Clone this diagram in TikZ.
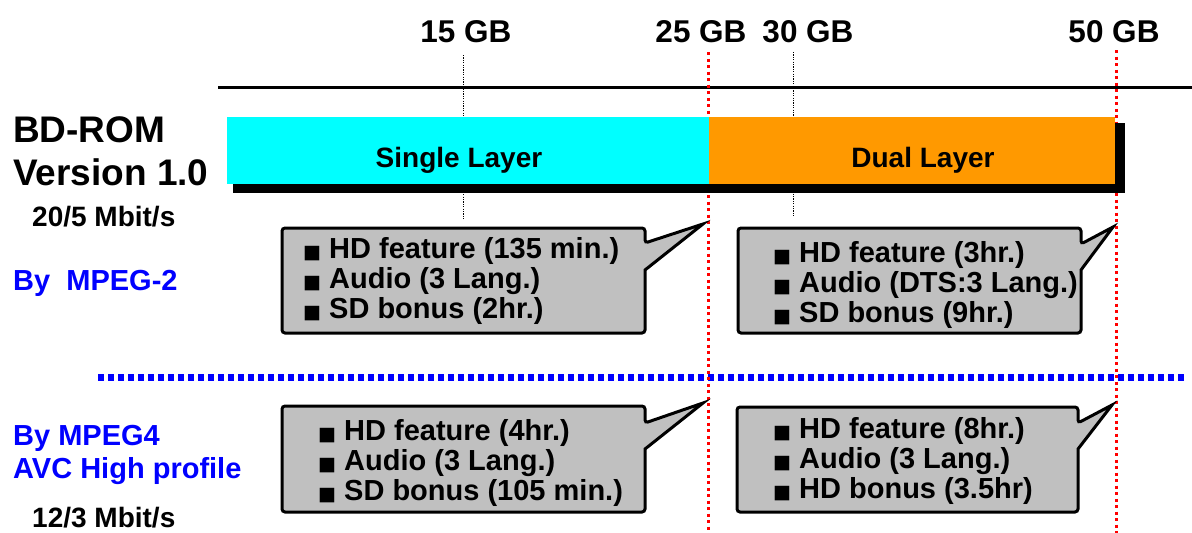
\documentclass[tikz,border=0pt]{standalone}
\usepackage{fontspec}
\setmainfont{Liberation Sans}
\newfontfamily\symfont{DejaVu Sans}
\definecolor{layerA}{RGB}{0,255,255}
\definecolor{layerB}{RGB}{255,153,0}
\definecolor{boxgray}{RGB}{192,192,192}
\newcommand\sqb{\makebox[26pt][l]{\symfont\fontsize{19}{19}\selectfont\char"25A0}}
\begin{document}
\begin{tikzpicture}[x=1pt,y=-1pt,
  lbl/.style={inner sep=0pt,font=\fontsize{31.5}{31.5}\selectfont\bfseries},
  title/.style={inner sep=0pt,font=\fontsize{37}{37}\selectfont\bfseries},
  rate/.style={inner sep=0pt,font=\fontsize{28}{28}\selectfont\bfseries},
  codec/.style={inner sep=0pt,text=blue,font=\fontsize{29}{29}\selectfont\bfseries},
  item/.style={inner sep=0pt,anchor=base west,font=\fontsize{29}{29}\selectfont\bfseries},
  callout/.style={fill=boxgray,draw=black,line width=3pt,line join=miter,rounded corners=3pt},
  guide/.style={draw=black,line width=1pt,dash pattern=on 1.2pt off 1.2pt},
  capline/.style={draw=red,line width=3pt,dash pattern=on 3pt off 3.5pt},
  split/.style={draw=blue,line width=7pt,dash pattern=on 6pt off 4pt}]
\useasboundingbox (0,0) rectangle (1192,533);

% capacity labels
\node[lbl,anchor=base] (g15) at (466,42) {15 GB};
\node[lbl,anchor=base] (g25) at (701,42) {25 GB};
\node[lbl,anchor=base] (g30) at (808,42) {30 GB};
\node[lbl,anchor=base] (g50) at (1114,42) {50 GB};

% axis line
\draw[line width=3pt] (218,87) -- (1192,87);

% thin guides at 15 GB and 30 GB
\coordinate (t15) at (463,55);  \coordinate (b15) at (463,219);
\coordinate (t30) at (793,52);  \coordinate (b30) at (793,217);
\draw[guide] (t15) -- (b15);
\draw[guide] (t30) -- (b30);

% section separator
\coordinate (sepL) at (98,377); \coordinate (sepR) at (1184,377);
\draw[split] (sepL) -- (sepR);

% layer boundaries
\coordinate (r25t) at (708,52);  \coordinate (r25b) at (708,533);
\coordinate (r50t) at (1116,50); \coordinate (r50b) at (1116,533);
\draw[capline] (r25t) -- (r25b);
\draw[capline] (r50t) -- (r50b);

% layer bar with shadow
\fill[black] (233,123) rectangle (1125,193);
\fill[layerA] (227,117) rectangle (709,184);
\fill[layerB] (709,117) rectangle (1115,184);
\node[rate,anchor=base] (single) at (459,167) {Single Layer};
\node[rate,anchor=base] (dual) at (923,167) {Dual Layer};

% left side labels
\node[title,anchor=base west] (bd) at (13,142) {BD-ROM};
\node[title,anchor=base west] (ver) at (13,185) {Version 1.0};
\node[rate,anchor=base west] (r1) at (32,226) {20/5 Mbit/s};
\node[codec,anchor=base west] (m2) at (13,290) {By\ \ MPEG-2};
\node[codec,anchor=base west] (m4) at (13,445) {By MPEG4};
\node[codec,anchor=base west] (avc) at (13,478) {AVC High profile};
\node[rate,anchor=base west] (r2) at (32,527) {12/3 Mbit/s};

% callouts
\draw[callout] (282,228) -- (645,228) -- (645,243) [sharp corners] -- (703,224) -- (645,270) [rounded corners=3pt] -- (645,333) -- (282,333) -- cycle;
\draw[callout] (738,228) -- (1081,228) -- (1081,244) [sharp corners] -- (1113,227) -- (1081,270) [rounded corners=3pt] -- (1081,333) -- (738,333) -- cycle;
\draw[callout] (282,406) -- (645,406) -- (645,423) [sharp corners] -- (703,403) -- (645,449) [rounded corners=3pt] -- (645,512) -- (282,512) -- cycle;
\draw[callout] (737,407) -- (1078,407) -- (1078,423) [sharp corners] -- (1112,405) -- (1078,449) [rounded corners=3pt] -- (1078,512) -- (737,512) -- cycle;

\node[item] (a1) at (303,258) {\sqb HD feature (135 min.)};
\node[item] (a2) at (303,288) {\sqb Audio (3 Lang.)};
\node[item] (a3) at (303,318) {\sqb SD bonus (2hr.)};

\node[item] (b1) at (773,262) {\sqb HD feature (3hr.)};
\node[item] (b2) at (773,292) {\sqb Audio (DTS:3 Lang.)};
\node[item] (b3) at (773,322) {\sqb SD bonus (9hr.)};

\node[item] (c1) at (318,440) {\sqb HD feature (4hr.)};
\node[item] (c2) at (318,470) {\sqb Audio (3 Lang.)};
\node[item] (c3) at (318,500) {\sqb SD bonus (105 min.)};

\node[item] (d1) at (773,438) {\sqb HD feature (8hr.)};
\node[item] (d2) at (773,468) {\sqb Audio (3 Lang.)};
\node[item] (d3) at (773,498) {\sqb HD bonus (3.5hr)};
\end{tikzpicture}
\end{document}
